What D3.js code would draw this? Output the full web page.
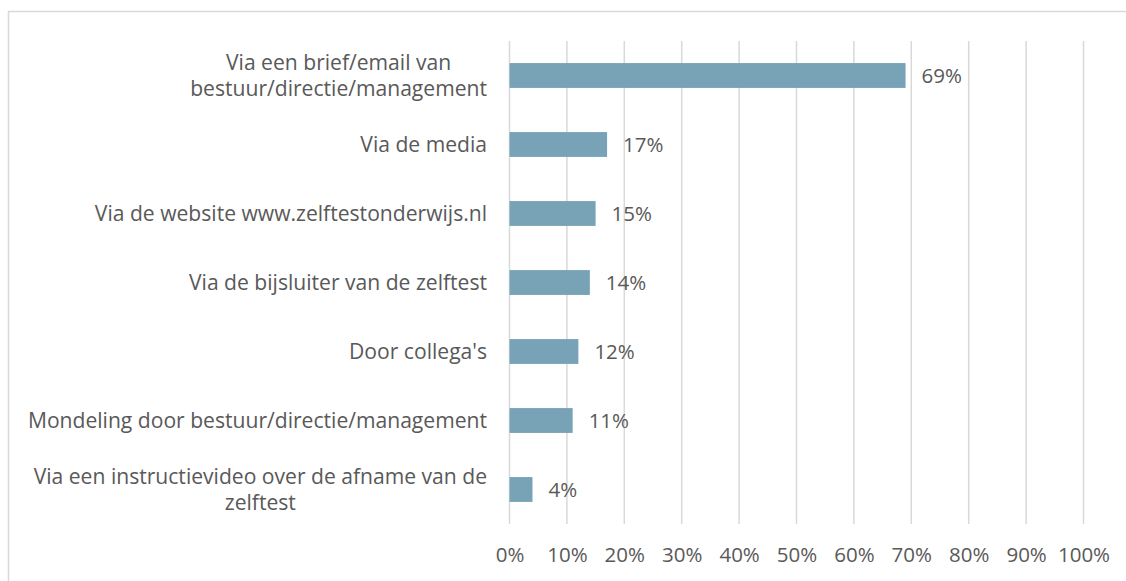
<!DOCTYPE html>
<html>
<head>
<meta charset="utf-8">
<script src="https://cdn.jsdelivr.net/npm/d3@7"></script>
<style>
  html, body { margin: 0; padding: 0; background: #fff; }
  svg { display: block; }
  text { font-family: "Open Sans", "Liberation Sans", sans-serif; fill: #595959; }
</style>
</head>
<body>
<svg id="chart" width="1126" height="581"></svg>
<script>
// Survey answers: how respondents learned about the self-test
const categories = [
  ["Via een brief/email van", "bestuur/directie/management"],
  ["Via de media"],
  ["Via de website www.zelftestonderwijs.nl"],
  ["Via de bijsluiter van de zelftest"],
  ["Door collega's"],
  ["Mondeling door bestuur/directie/management"],
  ["Via een instructievideo over de afname van de", "zelftest"]
];
const values = [69, 17, 15, 14, 12, 11, 4];
const tickValues = [0, 10, 20, 30, 40, 50, 60, 70, 80, 90, 100];

const svg = d3.select("#chart");
const W = 1126, H = 581;
const plot = { left: 509.5, right: 1083.5, top: 41, bottom: 524 };
const fontSize = "20.5px";
const catFontSize = "21.1px";

// outer chart frame (extends past the right and bottom edges)
svg.append("rect")
  .attr("x", 8.5).attr("y", 11.5)
  .attr("width", W + 20).attr("height", H + 20)
  .attr("fill", "none").attr("stroke", "#d9d9d9").attr("stroke-width", 1.5);

const x = d3.scaleLinear().domain([0, 100]).range([plot.left, plot.right]);
const y = d3.scaleBand().domain(d3.range(categories.length))
  .range([plot.top, plot.bottom]).paddingInner(0.64).paddingOuter(0.32);

// vertical gridlines
svg.append("g").selectAll("line").data(tickValues).join("line")
  .attr("x1", d => x(d)).attr("x2", d => x(d))
  .attr("y1", plot.top).attr("y2", plot.bottom)
  .attr("stroke", "#d9d9d9").attr("stroke-width", 1.5);

// bottom axis tick labels
const xAxis = d3.axisBottom(x).tickValues(tickValues).tickFormat(d => d + "%").tickSize(0).tickPadding(0);
const gx = svg.append("g").attr("transform", `translate(0, ${plot.bottom})`).call(xAxis);
gx.select(".domain").remove();
gx.selectAll("text")
  .attr("dy", null).attr("y", 38)
  .style("font-size", fontSize).style("font-family", '"Open Sans", sans-serif').attr("fill", "#595959");

// bars
svg.append("g").selectAll("rect").data(values).join("rect")
  .attr("x", x(0))
  .attr("y", (d, i) => y(i))
  .attr("width", d => x(d) - x(0))
  .attr("height", y.bandwidth())
  .attr("fill", "#78a3b6");

// value labels
svg.append("g").selectAll("text").data(values).join("text")
  .attr("x", d => x(d) + 16)
  .attr("y", (d, i) => y(i) + y.bandwidth() / 2)
  .attr("dy", "0.35em")
  .style("font-size", fontSize)
  .text(d => d + "%");

// category labels: right-aligned block, lines centered within it
const labelRight = 487;
const lineH = 26;
const catG = svg.append("g").style("font-size", catFontSize);
categories.forEach((lines, i) => {
  const cy = y(i) + y.bandwidth() / 2;
  const t = catG.append("text").attr("text-anchor", "middle");
  const tspans = lines.map((ln, k) => t.append("tspan")
    .attr("x", 0)
    .attr("y", cy + (k - (lines.length - 1) / 2) * lineH)
    .attr("dy", "0.35em")
    .text(ln));
  const maxW = d3.max(tspans, s => s.node().getComputedTextLength());
  tspans.forEach(s => s.attr("x", labelRight - maxW / 2));
});
</script>
</body>
</html>
